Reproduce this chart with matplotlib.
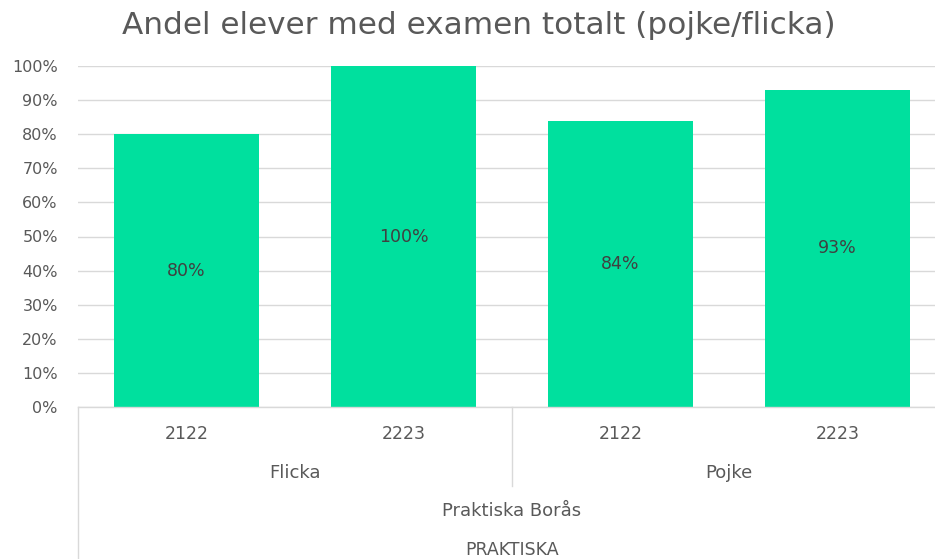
import matplotlib.pyplot as plt
from matplotlib.ticker import PercentFormatter

# ── Data ─────────────────────────────────────────────────────────────────────
years = ["2122", "2223", "2122", "2223"]
genders = ["Flicka", "Pojke"]
school = "Praktiska Borås"
org = "PRAKTISKA"
values = [0.80, 1.00, 0.84, 0.93]

BAR_COLOR = "#00E09E"
TEXT_COLOR = "#595959"
GRID_COLOR = "#D9D9D9"

plt.rcParams["font.family"] = ["DejaVu Sans"]

fig = plt.figure(figsize=(9.35, 5.59), dpi=100)
W, H = 935, 559
ax = fig.add_axes([78 / W, 152 / H, 868 / W, 341 / H])

x = list(range(len(values)))
bars = ax.bar(x, values, width=0.667, color=BAR_COLOR, zorder=2)
ax.set_xlim(-0.5, len(values) - 0.5)
ax.set_ylim(0, 1.0)
ax.set_yticks([i / 10 for i in range(11)])
ax.yaxis.set_major_formatter(PercentFormatter(1.0, decimals=0))
ax.tick_params(axis="y", length=0, labelsize=11.5, labelcolor=TEXT_COLOR, pad=14.5)
ax.tick_params(axis="x", length=0, labelbottom=False)
ax.grid(axis="y", color=GRID_COLOR, lw=1, zorder=0)
for s in ["top", "right", "left"]:
    ax.spines[s].set_visible(False)
ax.spines["bottom"].set_color(GRID_COLOR)
ax.spines["bottom"].set_linewidth(1)

# value labels in the middle of bars
for xi, v in zip(x, values):
    ax.text(xi, v / 2, f"{v:.0%}", ha="center", va="center",
            fontsize=12.5, color="#404040", zorder=3)

# ── Multi-level category axis ────────────────────────────────────────────────
trans = ax.get_xaxis_transform()
def ypx(py):
    # convert pixel row (from top of image) to axes-y coordinate
    return (559 - py - 152) / 341

for xi, yr in zip(x, years):
    ax.text(xi, ypx(434), yr, transform=trans, ha="center", va="center",
            fontsize=12.5, color=TEXT_COLOR, clip_on=False)
for gi, g in enumerate(genders):
    ax.text(gi * 2 + 0.5, ypx(473), g, transform=trans, ha="center",
            va="center", fontsize=13, color=TEXT_COLOR, clip_on=False)
ax.text(1.5, ypx(511), school, transform=trans, ha="center", va="center",
        fontsize=13, color=TEXT_COLOR, clip_on=False)
ax.text(1.5, ypx(550), org, transform=trans, ha="center", va="center",
        fontsize=12.5, color=TEXT_COLOR, clip_on=False)

# divider lines
ax.plot([-0.5, -0.5], [0, ypx(575)], transform=trans, color=GRID_COLOR,
        lw=1, clip_on=False)
ax.plot([1.5, 1.5], [0, ypx(486)], transform=trans, color=GRID_COLOR,
        lw=1, clip_on=False)

fig.text(479 / W, 1 - 25 / H, "Andel elever med examen totalt (pojke/flicka)",
         ha="center", va="center", fontsize=22.4, color=TEXT_COLOR)

fig.savefig("out.png", dpi=100)
